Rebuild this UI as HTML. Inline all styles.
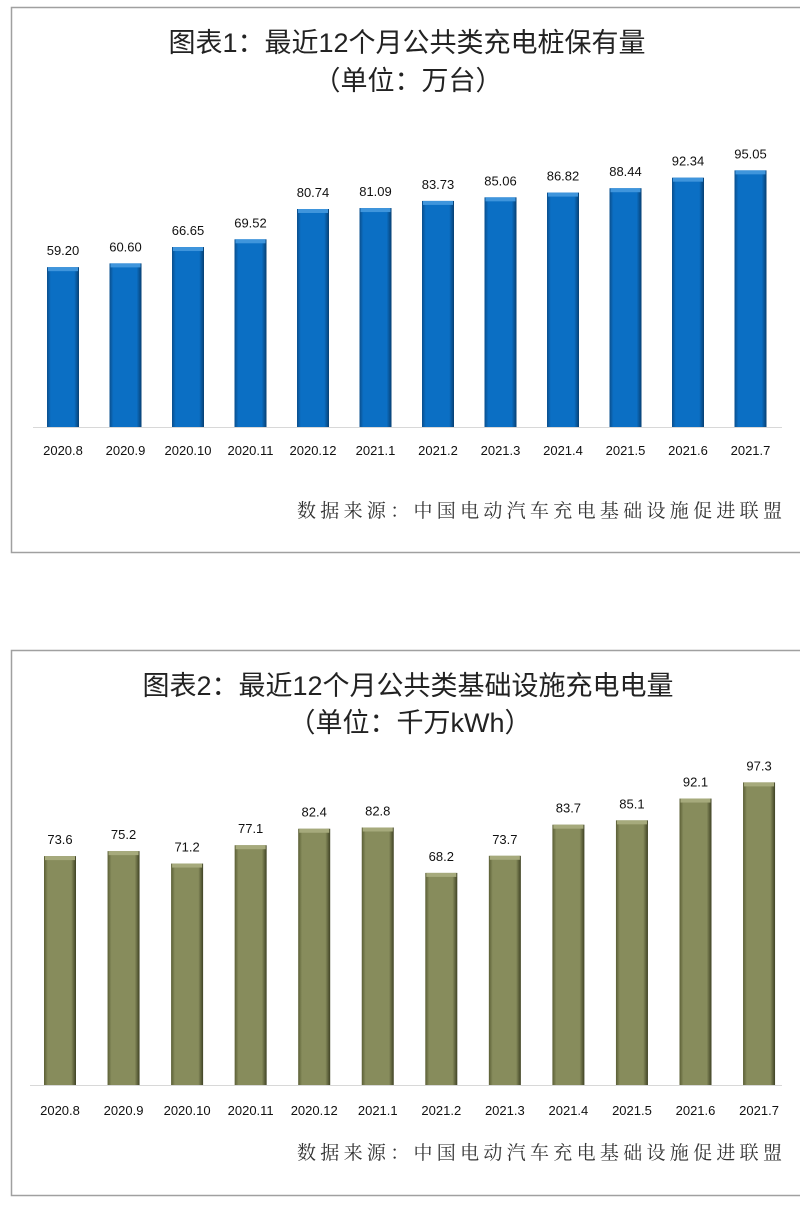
<!DOCTYPE html>
<html><head><meta charset="utf-8"><style>
html,body{margin:0;padding:0;background:#fff;}
svg{display:block;}
</style></head><body>
<svg id="s" width="800" height="1206" xmlns="http://www.w3.org/2000/svg">
<defs>
<linearGradient id="gb" x1="0" x2="1" y1="0" y2="0">
<stop offset="0" stop-color="#0a4e8c"/><stop offset="0.12" stop-color="#0b6fc4"/><stop offset="0.85" stop-color="#0b6fc4"/><stop offset="1" stop-color="#073f72"/>
</linearGradient>
<linearGradient id="go" x1="0" x2="1" y1="0" y2="0">
<stop offset="0" stop-color="#5a5e35"/><stop offset="0.12" stop-color="#878c5c"/><stop offset="0.85" stop-color="#878c5c"/><stop offset="1" stop-color="#3f4224"/>
</linearGradient>
</defs>
<rect x="11.5" y="7.5" width="800" height="545" fill="none" stroke="#a0a0a0" stroke-width="1.5"/>
<rect x="11.5" y="650.5" width="800" height="545" fill="none" stroke="#a0a0a0" stroke-width="1.5"/>
<g font-family="'Liberation Sans','Noto Sans CJK SC',sans-serif" fill="#222" text-anchor="middle">
<text x="407" y="52" font-size="27">图表1：最近12个月公共类充电桩保有量</text>
<text x="408" y="90" font-size="27">（单位：万台）</text>
<text x="408" y="695" font-size="27">图表2：最近12个月公共类基础设施充电电量</text>
<text x="410" y="732" font-size="27">（单位：千万kWh）</text>
</g>
<g font-family="'Liberation Serif','Noto Serif CJK SC',serif" fill="#333" font-size="19">
<text x="297" y="517" textLength="485" lengthAdjust="spacing">数据来源：中国电动汽车充电基础设施促进联盟</text>
<text x="297" y="1159" textLength="485" lengthAdjust="spacing">数据来源：中国电动汽车充电基础设施促进联盟</text>
</g>
<line x1="33" y1="427.5" x2="782" y2="427.5" stroke="#d8d8d8"/>
<line x1="30" y1="1085.5" x2="782" y2="1085.5" stroke="#d8d8d8"/>
<g id="bars"></g>
</svg>
<script>
var labs=["2020.8","2020.9","2020.10","2020.11","2020.12","2021.1","2021.2","2021.3","2021.4","2021.5","2021.6","2021.7"];
var v1=["59.20","60.60","66.65","69.52","80.74","81.09","83.73","85.06","86.82","88.44","92.34","95.05"];
var v2=["73.6","75.2","71.2","77.1","82.4","82.8","68.2","73.7","83.7","85.1","92.1","97.3"];
var h="";
var F="font-family=\"'Liberation Sans',sans-serif\" text-anchor=\"middle\" fill=\"#111\"";
function chart(vals,c0,dx,base,sc,fill,cap,ly){
 for(var i=0;i<12;i++){
  var c=c0+dx*i,t=base-parseFloat(vals[i])*sc;
  h+='<rect x="'+(c-16)+'" y="'+t+'" width="32" height="'+(base-t)+'" fill="url(#'+fill+')"/>';
  h+='<rect x="'+(c-15)+'" y="'+t+'" width="30" height="4" fill="'+cap+'"/>';
  h+='<text x="'+c+'" y="'+(t-12)+'" font-size="13" '+F+'>'+vals[i]+'</text>';
  h+='<text x="'+c+'" y="'+ly+'" font-size="13" '+F+'>'+labs[i]+'</text>';
 }
}
chart(v1,63,62.5,427,2.7,"gb","#3f95dc",455);
chart(v2,60,63.55,1085,3.11,"go","#a6aa7c",1115);
document.getElementById("bars").innerHTML=h;
</script>
</body></html>
